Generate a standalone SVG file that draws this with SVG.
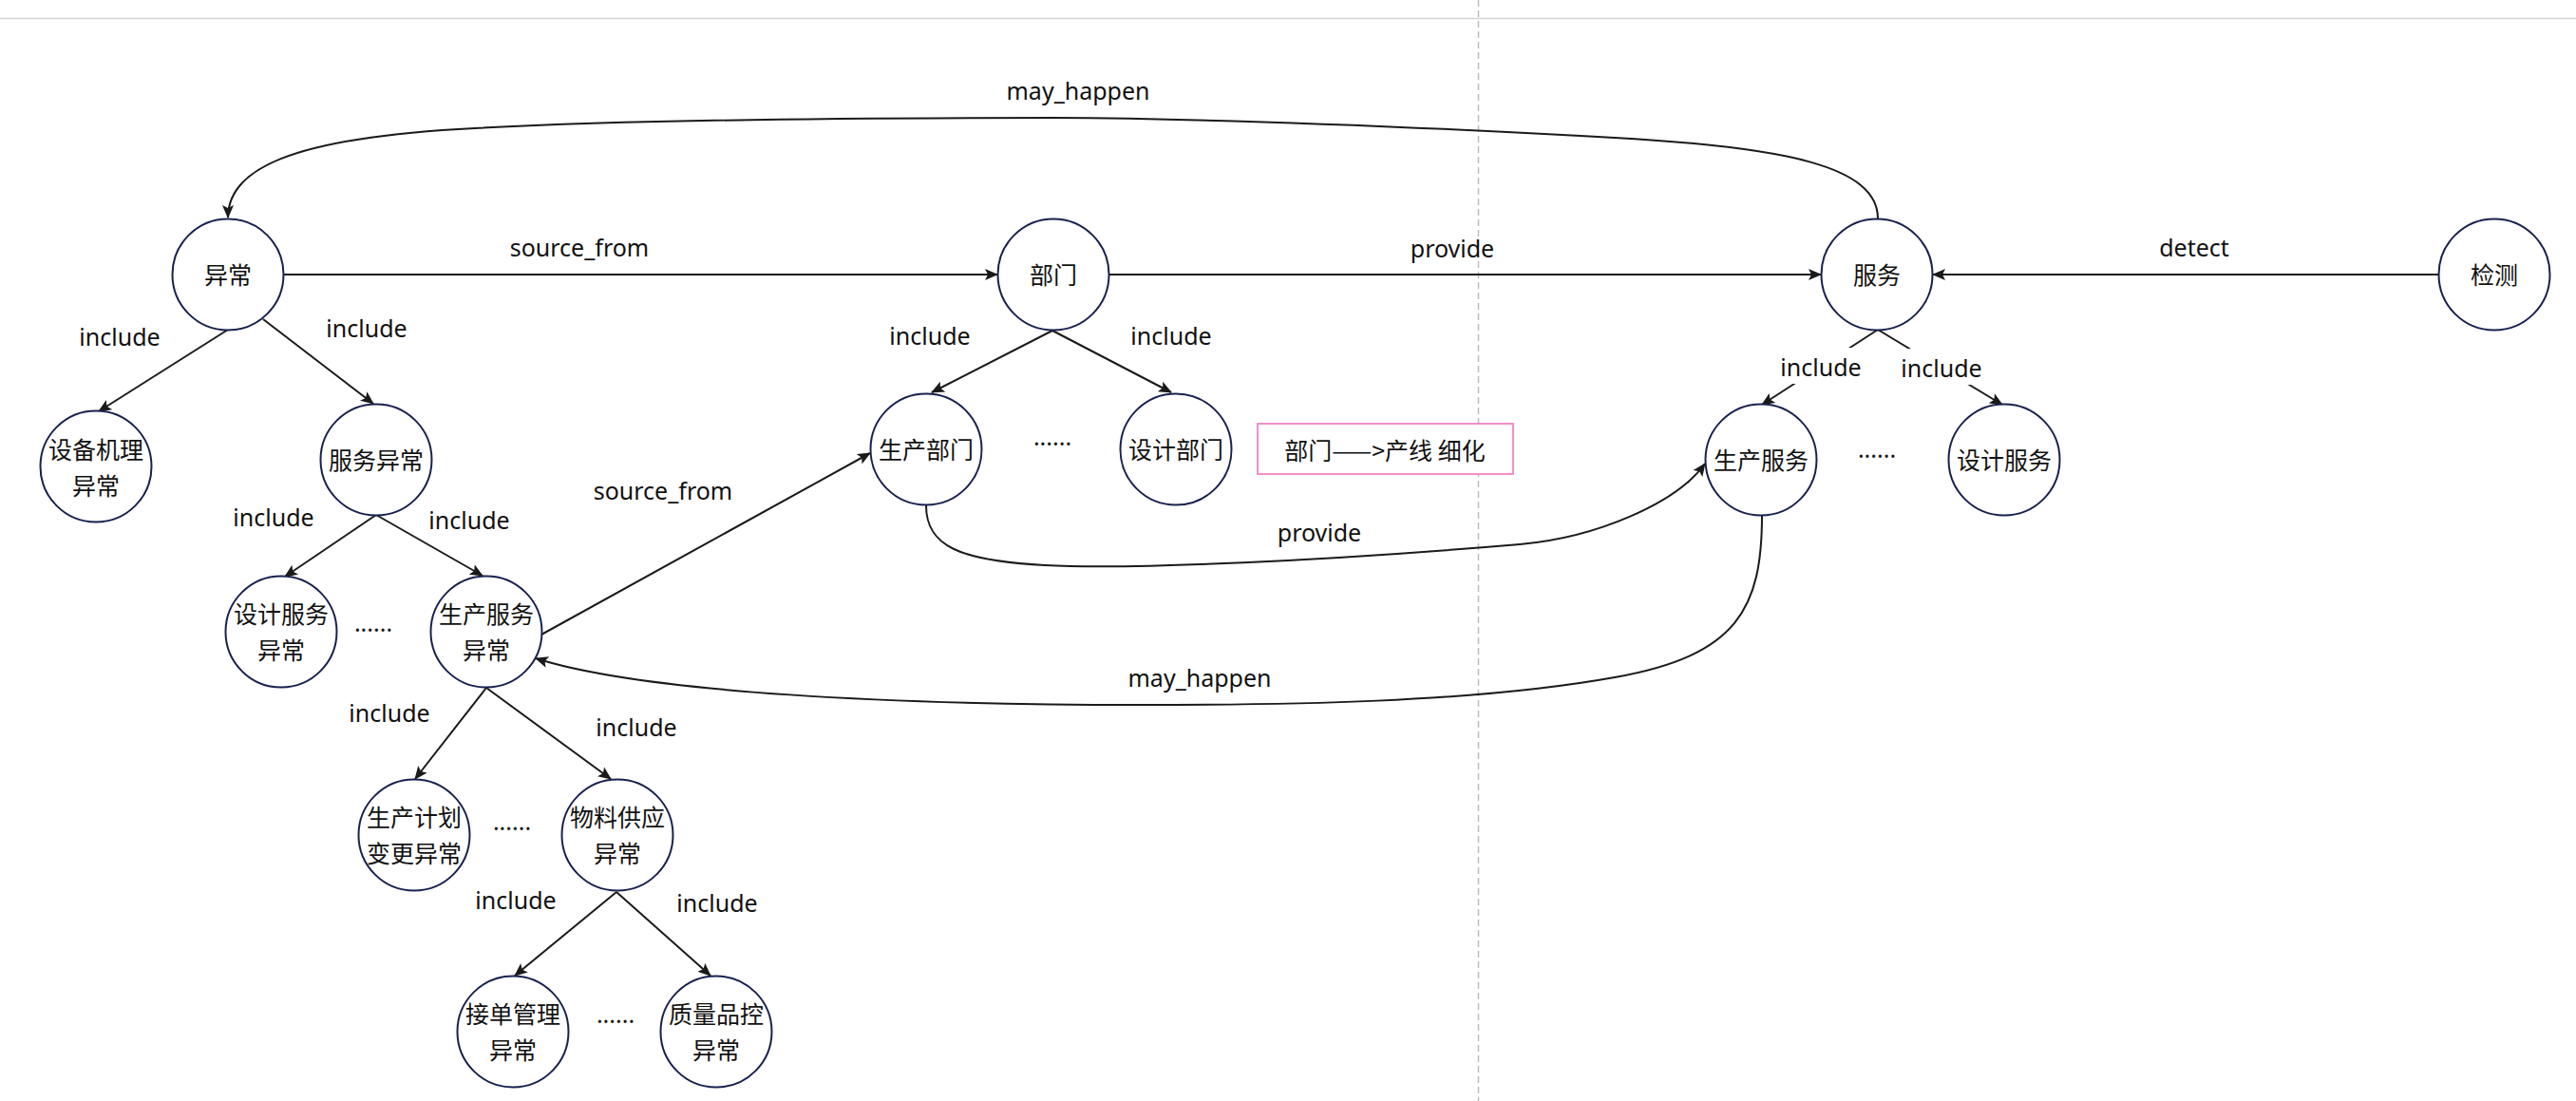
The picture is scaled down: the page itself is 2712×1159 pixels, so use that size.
<svg xmlns="http://www.w3.org/2000/svg" width="2712" height="1159" viewBox="0 0 2712 1159">
  <defs>
    <marker id="arrow" markerUnits="userSpaceOnUse" markerWidth="16" markerHeight="14" viewBox="0 0 16 14" refX="13" refY="7" orient="auto">
      <path d="M0,1 L14,7 L0,13 L3,7 Z" fill="#1a1a1a"/>
    </marker>
    <style>
      .node circle { fill: #ffffff; stroke: #19214f; stroke-width: 2; }
      .node text, .label { font-family: "Noto Sans", "Noto Sans CJK SC", sans-serif; font-size: 25px; fill: #111111; text-anchor: middle; dominant-baseline: central; }
      .note-text { font-family: "Noto Sans CJK SC", "Noto Sans", sans-serif; font-size: 25px; fill: #111111; text-anchor: middle; dominant-baseline: central; }
      .edges path { fill: none; stroke: #1a1a1a; stroke-width: 2; }
      .dots { font-family: "Noto Sans", "Noto Sans CJK SC", sans-serif; font-size: 25px; fill: #111111; text-anchor: middle; }
    </style>
  </defs>
  <rect x="0" y="0" width="2712" height="1159" fill="#ffffff"/>

  <!-- page guides -->
  <g id="guides">
    <line x1="0" y1="19.5" x2="2712" y2="19.5" stroke="#d3d3d3" stroke-width="1.5"/>
    <line x1="1556.5" y1="0" x2="1556.5" y2="1159" stroke="#bcbcbc" stroke-width="1.5" stroke-dasharray="7 4"/>
  </g>

  <!-- connectors -->
  <g id="connectors" class="edges">
    <path d="M1977,230 C1977,175 1880,155 1700,145 C1520,135 1300,125 1110,124 C900,124 650,127 500,135 C300,145 240,180 240,229" marker-end="url(#arrow)"/>
    <path d="M298,289 L1050,289" marker-end="url(#arrow)"/>
    <path d="M1167,289 L1917,289" marker-end="url(#arrow)"/>
    <path d="M2567,289 L2035,289" marker-end="url(#arrow)"/>
    <path d="M240,347 L104,433" marker-end="url(#arrow)"/>
    <path d="M277,336 L393,425" marker-end="url(#arrow)"/>
    <path d="M396,542 L300,607" marker-end="url(#arrow)"/>
    <path d="M396,542 L508,606" marker-end="url(#arrow)"/>
    <path d="M512,724 L437,820" marker-end="url(#arrow)"/>
    <path d="M512,724 L643,820" marker-end="url(#arrow)"/>
    <path d="M649,939 L542,1027" marker-end="url(#arrow)"/>
    <path d="M649,939 L748,1027" marker-end="url(#arrow)"/>
    <path d="M1108,348 L981,413" marker-end="url(#arrow)"/>
    <path d="M1108,348 L1233,413" marker-end="url(#arrow)"/>
    <path d="M1977,347 L1855,426" marker-end="url(#arrow)"/>
    <path d="M1977,347 L2108,426" marker-end="url(#arrow)"/>
    <path d="M570,668 L916,477" marker-end="url(#arrow)"/>
    <path d="M975,532 C975,575 1010,590 1100,595 C1190,600 1400,590 1600,573 C1680,566 1765,530 1795,488" marker-end="url(#arrow)"/>
    <path d="M1855,542 C1855,640 1830,690 1700,713 C1550,740 1350,742 1200,742 C950,742 680,730 564,693" marker-end="url(#arrow)"/>
  </g>

  <!-- connector labels -->
  <g id="edge-labels">
    <rect x="1873" y="366" width="88" height="38" fill="#ffffff"/>
    <rect x="2000" y="367" width="88" height="38" fill="#ffffff"/>
    <text class="label" x="1135" y="95">may_happen</text>
    <text class="label" x="610" y="260">source_from</text>
    <text class="label" x="1529" y="261">provide</text>
    <text class="label" x="2310" y="260">detect</text>
    <text class="label" x="126" y="354">include</text>
    <text class="label" x="386" y="345">include</text>
    <text class="label" x="288" y="544">include</text>
    <text class="label" x="494" y="547">include</text>
    <text class="label" x="979" y="353">include</text>
    <text class="label" x="1233" y="353">include</text>
    <text class="label" x="1917" y="386">include</text>
    <text class="label" x="2044" y="387">include</text>
    <text class="label" x="698" y="516">source_from</text>
    <text class="label" x="1389" y="560">provide</text>
    <text class="label" x="1263" y="713">may_happen</text>
    <text class="label" x="410" y="750">include</text>
    <text class="label" x="670" y="765">include</text>
    <text class="label" x="543" y="947">include</text>
    <text class="label" x="755" y="950">include</text>
  </g>

  <!-- ellipsis marks between sibling nodes -->
  <g id="ellipses">
    <text class="dots" x="393" y="665">......</text>
    <text class="dots" x="1108" y="469">......</text>
    <text class="dots" x="1976" y="482">......</text>
    <text class="dots" x="539" y="874">......</text>
    <text class="dots" x="648" y="1077">......</text>
  </g>

  <!-- note -->
  <g id="note">
    <rect x="1324" y="446" width="269" height="53" fill="#ffffff" stroke="#f28ec8" stroke-width="2"/>
    <text class="note-text" x="1458" y="473">部门——&gt;产线 细化</text>
  </g>

  <!-- nodes -->
  <g id="n-yichang" class="node"><circle cx="240" cy="289" r="58.5"/><text x="240" y="289">异常</text></g>
  <g id="n-bumen" class="node"><circle cx="1109" cy="289" r="58.5"/><text x="1109" y="289">部门</text></g>
  <g id="n-fuwu" class="node"><circle cx="1976" cy="289" r="58.5"/><text x="1976" y="289">服务</text></g>
  <g id="n-jiance" class="node"><circle cx="2626" cy="289" r="58.5"/><text x="2626" y="289">检测</text></g>
  <g id="n-shebei" class="node"><circle cx="101" cy="491" r="58.5"/><text x="101" y="473">设备机理</text><text x="101" y="511">异常</text></g>
  <g id="n-fuwuyichang" class="node"><circle cx="396" cy="484" r="58.5"/><text x="396" y="484">服务异常</text></g>
  <g id="n-shengchanbumen" class="node"><circle cx="975" cy="473" r="58.5"/><text x="975" y="473">生产部门</text></g>
  <g id="n-shejibumen" class="node"><circle cx="1238" cy="473" r="58.5"/><text x="1238" y="473">设计部门</text></g>
  <g id="n-shengchanfuwu" class="node"><circle cx="1854" cy="484" r="58.5"/><text x="1854" y="484">生产服务</text></g>
  <g id="n-shejifuwu" class="node"><circle cx="2110" cy="484" r="58.5"/><text x="2110" y="484">设计服务</text></g>
  <g id="n-shejifuwuyichang" class="node"><circle cx="296" cy="665" r="58.5"/><text x="296" y="646">设计服务</text><text x="296" y="684">异常</text></g>
  <g id="n-shengchanfuwuyichang" class="node"><circle cx="512" cy="665" r="58.5"/><text x="512" y="646">生产服务</text><text x="512" y="684">异常</text></g>
  <g id="n-jihuabiangeng" class="node"><circle cx="436" cy="879" r="58.5"/><text x="436" y="860">生产计划</text><text x="436" y="898">变更异常</text></g>
  <g id="n-wuliao" class="node"><circle cx="650" cy="879" r="58.5"/><text x="650" y="860">物料供应</text><text x="650" y="898">异常</text></g>
  <g id="n-jiedan" class="node"><circle cx="540" cy="1086" r="58.5"/><text x="540" y="1067">接单管理</text><text x="540" y="1105">异常</text></g>
  <g id="n-zhiliang" class="node"><circle cx="754" cy="1086" r="58.5"/><text x="754" y="1067">质量品控</text><text x="754" y="1105">异常</text></g>
</svg>
